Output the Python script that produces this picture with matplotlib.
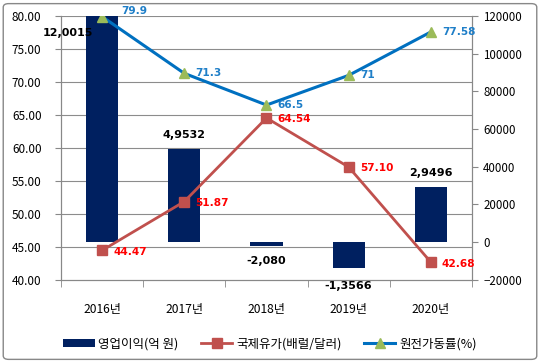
import matplotlib.pyplot as plt
import matplotlib.transforms as mtransforms
from matplotlib.patches import FancyBboxPatch

plt.rcParams['font.family'] = ['Noto Sans CJK KR', 'DejaVu Sans']

years = ['2016년', '2017년', '2018년', '2019년', '2020년']
profit = [120015, 49532, -2080, -13566, 29496]
profit_lbl = ['12,0015', '4,9532', '-2,080', '-1,3566', '2,9496']
oil = [44.47, 51.87, 64.54, 57.10, 42.68]
oil_lbl = ['44.47', '51.87', '64.54', '57.10', '42.68']
nuke = [79.9, 71.3, 66.5, 71, 77.58]
nuke_lbl = ['79.9', '71.3', '66.5', '71', '77.58']

fig = plt.figure(figsize=(5.4, 3.63), dpi=100)
ax = fig.add_axes([0.113, 0.229, 0.761, 0.727])
ax2 = ax.twinx()
ax.set_zorder(2)
ax.patch.set_visible(False)

x = list(range(len(years)))

# bars on the right axis
ax2.bar(x, profit, width=0.39, color='#002060', zorder=3)
ax2.set_ylim(-20000, 120000)
ax2.set_yticks(range(-20000, 120001, 20000))
ax2.tick_params(axis='y', labelsize=8.3, length=4, color='#888888', pad=4)

# gridlines at left-axis ticks, drawn behind bars
tr = mtransforms.blended_transform_factory(ax2.transAxes, ax.transData)
for g in [45, 50, 55, 60, 65, 70, 75, 80]:
    ax2.plot([0, 1], [g, g], transform=tr, color='#8c8c8c', lw=0.8, zorder=1)

# lines on the left axis
ax.plot(x, oil, color='#C0504D', lw=2, marker='s', ms=7, mfc='#C0504D', mec='#C0504D', label='국제유가(배럴/달러)')
ax.plot(x, nuke, color='#0070C0', lw=2.2, marker='^', ms=7, mfc='#9BBB59', mec='#9BBB59', label='원전가동률(%)')
ax.set_ylim(40, 80)
ax.set_yticks([40, 45, 50, 55, 60, 65, 70, 75, 80])
ax.set_yticklabels(['%.2f' % v for v in ax.get_yticks()])
ax.tick_params(axis='y', labelsize=8.5, length=4, color='#888888', pad=10)
ax.set_xlim(-0.5, 4.5)
ax.set_xticks(x)
ax.set_xticklabels(years, fontsize=8.7)
ax.set_xticks([i - 0.5 for i in range(6)], minor=True)
ax.tick_params(axis='x', which='major', length=0, pad=17)
ax.tick_params(axis='x', which='minor', length=5, color='#888888')
ax2.tick_params(axis='x', length=0)

for a in (ax, ax2):
    a.spines['top'].set_visible(False)
    for s in ['left', 'right', 'bottom']:
        a.spines[s].set_color('#888888')

# data labels
for i in x:
    ax.annotate(oil_lbl[i], (i, oil[i]), xytext=(8, -1), textcoords='offset points',
                ha='left', va='center', color='#FF0000', fontsize=7.6, fontweight='bold', family='DejaVu Sans')
    dx, dy = (8, 0)
    if i == 0:
        dx, dy = (14, 4)
    ax.annotate(nuke_lbl[i], (i, nuke[i]), xytext=(dx, dy), textcoords='offset points',
                ha='left', va='center', color='#1F7FC8', fontsize=7.6, fontweight='bold', family='DejaVu Sans')

bar_off = [(-25, -12), (0, 10), (0, -11), (0, -13), (0, 10)]
for i in x:
    ax2.annotate(profit_lbl[i], (i, profit[i]), xytext=bar_off[i], textcoords='offset points',
                 ha='center', va='center', color='black', fontsize=8, fontweight='bold',
                 family='DejaVu Sans', zorder=5)

# legend
h1 = ax2.patches[0]
lines, labels = ax.get_legend_handles_labels()
leg = fig.legend([h1] + lines, ['영업이익(억 원)'] + labels, loc='center', bbox_to_anchor=(0.5, 0.052),
                 ncol=3, frameon=False, fontsize=9, handlelength=2.5, handleheight=0.6, columnspacing=1.8,
                 handletextpad=0.3)

border = FancyBboxPatch((0.006, 0.01), 0.988, 0.98, boxstyle='round,pad=0,rounding_size=0.01',
                        transform=fig.transFigure, fill=False, edgecolor='#888888', lw=1)
fig.patches.append(border)

fig.savefig('out.png', dpi=100)
